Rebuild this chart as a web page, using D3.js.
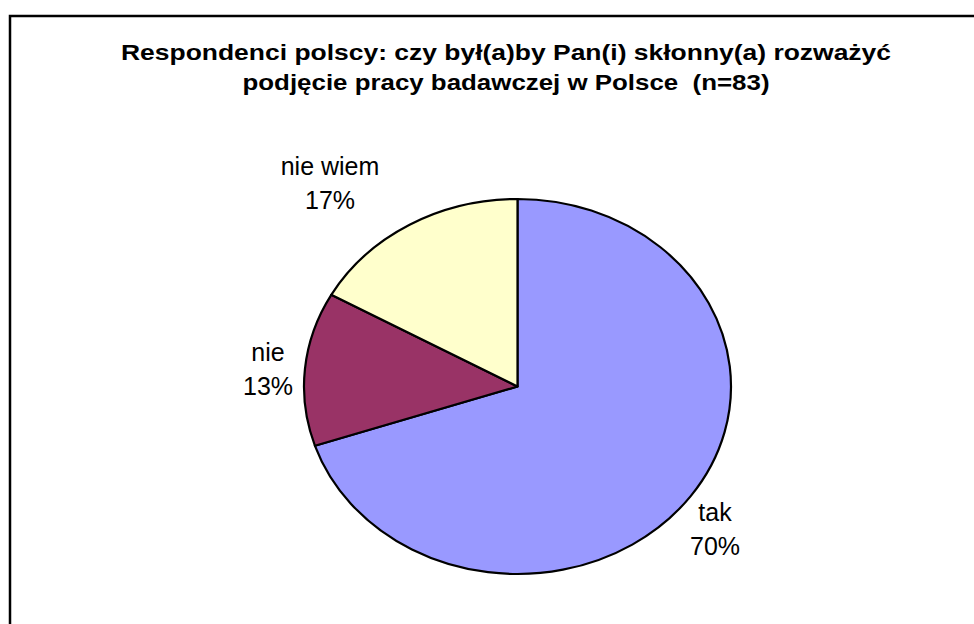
<!DOCTYPE html>
<html>
<head>
<meta charset="utf-8">
<script src="https://cdn.jsdelivr.net/npm/d3@7"></script>
<style>
  body { margin: 0; background: #fff; }
  text { font-family: "Liberation Sans", Arial, sans-serif; white-space: pre; }
</style>
</head>
<body>
<div id="holder"></div>
<script>
var width = 974;
var height = 624;

// answers, counts (n=83) and colours
var labels = ["tak", "nie", "nie wiem"];
var counts = [58, 11, 14];
var percents = ["70%", "13%", "17%"];
var colors = ["#9999ff", "#993366", "#ffffcc"];
var titleLines = [
  "Respondenci polscy: czy był(a)by Pan(i) skłonny(a) rozważyć",
  "podjęcie pracy badawczej w Polsce  (n=83)"
];

var cx = 517.5, cy = 386.5;
var rx = 213.5, ry = 187.5;

var svg = d3.select("#holder")
  .append("svg")
  .attr("width", width)
  .attr("height", height);

// chart area border (runs off right and bottom)
svg.append("rect")
  .attr("x", 10)
  .attr("y", 16)
  .attr("width", 1000)
  .attr("height", 700)
  .attr("fill", "#fff")
  .attr("stroke", "#000")
  .attr("stroke-width", 2.5);

var title = svg.append("g");
title.selectAll("text")
  .data(titleLines)
  .enter().append("text")
  .attr("x", 506)
  .attr("y", (d, i) => 60 + i * 30)
  .attr("text-anchor", "middle")
  .attr("font-size", 22)
  .attr("font-weight", "bold")
  .attr("textLength", (d, i) => i == 0 ? 770 : 527)
  .attr("lengthAdjust", "spacingAndGlyphs")
  .text(d => d);

var pie = d3.pie().sort(null).value(d => d);
var arcs = pie(counts);
var arc = d3.arc().innerRadius(0).outerRadius(ry);

var pieG = svg.append("g")
  .attr("transform", "translate(" + cx + "," + cy + ") scale(" + (rx / ry) + ",1)");

pieG.selectAll("path")
  .data(arcs)
  .enter().append("path")
  .attr("d", arc)
  .attr("fill", (d, i) => colors[i])
  .attr("stroke", "#000")
  .attr("stroke-width", 2.2)
  .attr("stroke-linejoin", "round")
  .attr("vector-effect", "non-scaling-stroke");

// label positions (centre of the two-line block)
var labelPos = [[715, 529], [268, 369], [330, 183]];

var lab = svg.append("g").selectAll("g")
  .data(arcs)
  .enter().append("g")
  .attr("transform", (d, i) => "translate(" + labelPos[i][0] + "," + labelPos[i][1] + ")");

lab.append("text")
  .attr("text-anchor", "middle")
  .attr("y", -8)
  .attr("font-size", 25)
  .text((d, i) => labels[i]);

lab.append("text")
  .attr("text-anchor", "middle")
  .attr("y", 26)
  .attr("font-size", 25)
  .text((d, i) => percents[i]);
</script>
</body>
</html>
